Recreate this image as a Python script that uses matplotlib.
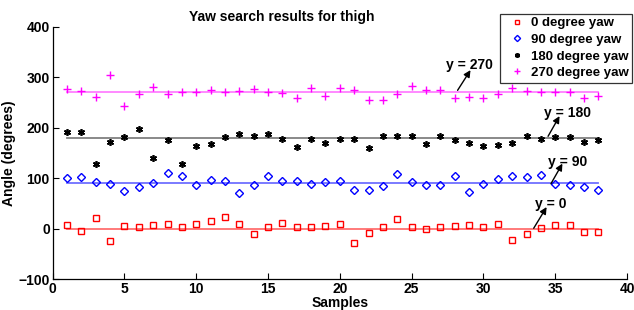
import matplotlib
matplotlib.use("Agg")
import matplotlib.pyplot as plt
import numpy as np

#-------------------- DATA -------------------#
samples = np.arange(1, 39)

yaw_0 = [7, -5, 22, -25, 5, 3, 7, 10, 4, 9, 15, 23, 10,
         -11, 3, 12, 3, 3, 5, 9, -28, -9, 3, 19, 3, -1, 3,
         5, 7, 3, 9, -23, -11, 1, 7, 7, -6, -6]
yaw_90 = [100, 103, 93, 89, 75, 83, 91, 110, 105, 87, 97, 95, 71,
          87, 104, 95, 95, 89, 92, 94, 76, 77, 85, 109, 93, 87, 87,
          105, 73, 89, 98, 104, 103, 107, 88, 86, 82, 77]
yaw_180 = [191, 191, 129, 172, 182, 198, 141, 175, 129, 164, 168, 181, 187,
           183, 188, 177, 162, 178, 170, 178, 178, 160, 183, 183, 183, 168, 183,
           176, 170, 163, 165, 170, 183, 178, 181, 182, 172, 175]
yaw_270 = [277, 272, 261, 305, 242, 266, 281, 267, 270, 271, 274, 271, 272,
           277, 271, 268, 259, 279, 263, 278, 275, 254, 254, 266, 283, 275, 275,
           259, 260, 259, 267, 279, 272, 271, 271, 271, 258, 262]

ref_values = [0, 90, 180, 270]
labels = ['0 degree yaw', '90 degree yaw', '180 degree yaw', '270 degree yaw']

# (text position, arrow tail, arrow head) for each reference line label
notes = [('y = 0', (33.6, 50), (33.5, 1), (34.4, 43)),
         ('y = 90', (34.5, 132), (34.7, 89), (35.5, 129)),
         ('y = 180', (34.2, 229), (34.5, 183), (35.3, 223)),
         ('y = 270', (27.4, 324), (28.2, 274), (29.1, 314))]

#------------------ PLOT -------------------#
plt.rcParams['font.family'] = 'Liberation Sans'
plt.rcParams['font.weight'] = 'bold'

fig = plt.figure(figsize=(6.34, 3.10), dpi=100)
ax = fig.add_axes([0.083, 0.099, 0.906, 0.815])

ax.plot(samples, yaw_0, 's', mfc='none', mec='#ff0000', ms=4.5, mew=1.0, label=labels[0])
ax.plot(samples, yaw_90, 'D', mfc='none', mec='#0000ff', ms=4.5, mew=1.0, label=labels[1])
ax.plot(samples, yaw_180, marker=(6, 2, 0), ls='none', color='black', ms=5, mew=1.2, label=labels[2])
ax.plot(samples, yaw_270, '+', color='#ff00ff', ms=6, mew=1.0, label=labels[3])

line_cols = ['#ff7070', '#7070ff', '#808080', '#ff80ff']
for v, c in zip(ref_values, line_cols):
    ax.plot([samples[0], samples[-1]], [v, v], color=c, lw=1.3, zorder=1)

for txt, tpos, tail, head in notes:
    ax.annotate('', xy=head, xytext=tail,
                arrowprops=dict(arrowstyle='-|>', color='black', lw=1.0,
                                mutation_scale=10, shrinkA=0, shrinkB=0))
    ax.text(tpos[0], tpos[1], txt, fontsize=10, fontweight='bold',
            ha='left', va='center')

ax.set_xlim(0, 40)
ax.set_ylim(-100, 400)
ax.set_xticks(range(0, 41, 5))
ax.set_yticks(range(-100, 401, 100))
ax.tick_params(direction='in', labelsize=10, length=4, width=0.8, pad=2)
for s in ['top', 'right']:
    ax.spines[s].set_visible(False)
for s in ['left', 'bottom']:
    ax.spines[s].set_linewidth(0.9)

ax.set_xlabel('Samples', fontsize=10, fontweight='bold', labelpad=0)
ax.set_ylabel('Angle (degrees)', fontsize=10, fontweight='bold', labelpad=2)
fig.text(282 / 634, 1 - 17 / 310, 'Yaw search results for thigh', fontsize=10,
         fontweight='bold', ha='center', va='center')

leg = ax.legend(loc='upper right', bbox_to_anchor=(1.009, 1.052), fontsize=9.5,
                frameon=True, fancybox=False, edgecolor='black', borderpad=0.27,
                labelspacing=0.33, handletextpad=0.05, handlelength=2.0,
                borderaxespad=0, markerscale=0.7)
leg.get_frame().set_linewidth(0.9)

plt.savefig('out.png', dpi=100)
